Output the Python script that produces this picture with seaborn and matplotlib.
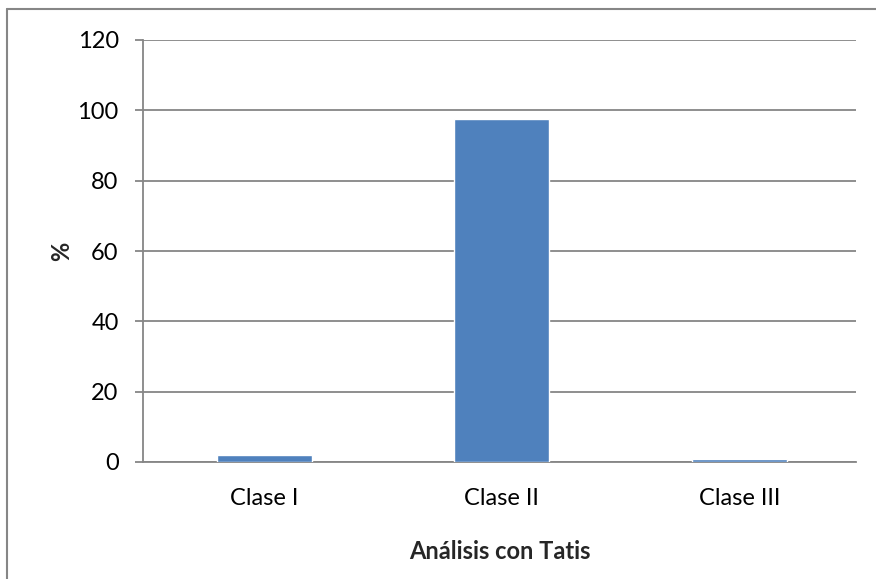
import matplotlib
matplotlib.use("Agg")
import matplotlib.pyplot as plt
import seaborn as sns
import pandas as pd
from matplotlib.lines import Line2D

categories = ["Clase I", "Clase II", "Clase III"]
values = [1.9, 97.4, 0.8]
yticks = [0, 20, 40, 60, 80, 100, 120]

sns.set_theme(style="white")
plt.rcParams['font.family'] = ['Lato', 'DejaVu Sans']

df = pd.DataFrame({"cat": categories, "val": values})

fig = plt.figure(figsize=(8.76, 5.79), dpi=100)
ax = fig.add_axes([143/876, 1-462/579, (856-143)/876, (462-40)/579])

sns.barplot(data=df, x="cat", y="val", color="#4F81BD", width=0.4,
            saturation=1, ax=ax, zorder=3)

gray = "#868686"
fs = 17
ax.set_xlim(-0.51, 2.49)
ax.set_ylim(0, 120)
ax.set_yticks(yticks)
ax.set_yticklabels([str(t) for t in yticks], fontsize=fs)
ax.yaxis.grid(True, color=gray, linewidth=1.3, zorder=0)
ax.set_axisbelow(True)
for s in ["top", "right"]:
    ax.spines[s].set_visible(False)
for s in ["left", "bottom"]:
    ax.spines[s].set_color(gray)
    ax.spines[s].set_linewidth(1.3)
ax.tick_params(axis="y", which="both", left=True, length=5.5, width=1.3,
               color=gray, pad=12, labelcolor="black")
ax.tick_params(axis="x", bottom=False, pad=13, labelsize=fs, labelcolor="black")
ax.set_xlabel("Análisis con Tatis", fontsize=fs, fontweight="bold", labelpad=22)
ax.set_ylabel("%", fontsize=fs, fontweight="bold", labelpad=3)

# outer chart border (left and top visible)
fig.add_artist(Line2D([7/876, 7/876], [0, 1-9/579], transform=fig.transFigure,
                      color=gray, linewidth=1.5))
fig.add_artist(Line2D([7/876, 1], [1-9/579, 1-9/579], transform=fig.transFigure,
                      color=gray, linewidth=1.5))

fig.savefig("out.png", dpi=100)
